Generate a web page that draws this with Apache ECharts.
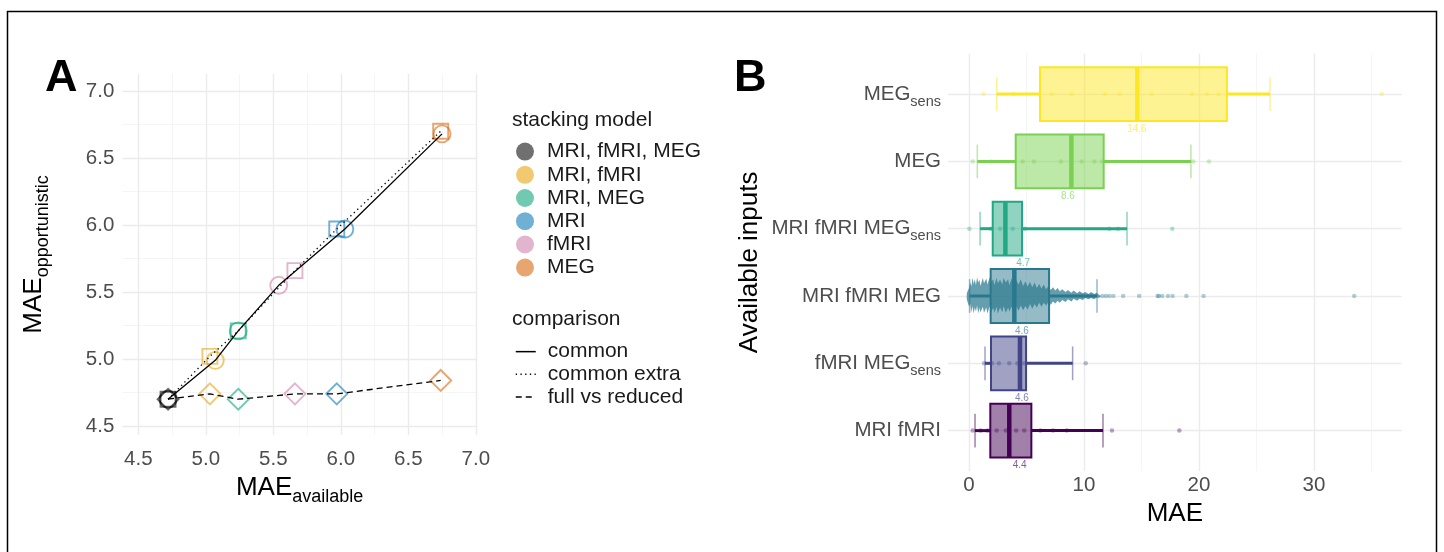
<!DOCTYPE html>
<html><head><meta charset="utf-8">
<script src="https://cdn.jsdelivr.net/npm/echarts@6/dist/echarts.min.js"></script>
<style>html,body{margin:0;padding:0;background:#fff}#c{width:1444px;height:552px}</style>
</head><body><div id="c"></div>
<script>
// ---------- Panel A data ----------
const models = ['MRI, fMRI, MEG', 'MRI, fMRI', 'MRI, MEG', 'MRI', 'fMRI', 'MEG'];
const modelColors = ['#000000', '#E69F00', '#009E73', '#0072B2', '#CC79A7', '#D55E00'];
const comparisons = ['common', 'common extra', 'full vs reduced'];
// common (circles)
const commonX = [4.72, 5.07, 5.24, 6.03, 5.54, 6.75];
const commonY = [4.70, 4.99, 5.21, 5.97, 5.55, 6.68];
// common extra (squares)
const extraX = [4.72, 5.03, 5.24, 5.97, 5.66, 6.74];
const extraY = [4.70, 5.02, 5.21, 5.97, 5.66, 6.70];
// full vs reduced (diamonds)
const fullX = [4.72, 5.03, 5.24, 5.97, 5.66, 6.74];
const fullY = [4.70, 4.74, 4.70, 4.74, 4.74, 4.84];
const ticksA = [4.5, 5.0, 5.5, 6.0, 6.5, 7.0];
const minorA = [4.75, 5.25, 5.75, 6.25, 6.75];

// ---------- Panel B data (rows bottom -> top) ----------
const inputs = ['MRI fMRI', 'fMRI MEGsens', 'MRI fMRI MEG', 'MRI fMRI MEGsens', 'MEG', 'MEGsens'];
const colorsB = ['#440154', '#414487', '#2A788E', '#22A884', '#7AD151', '#FDE725'];
const whiskLo = [0.52, 1.39, 0.05, 0.96, 0.72, 2.41];
const boxQ1 = [1.85, 1.91, 1.88, 2.06, 4.06, 6.17];
const boxMed = [3.50, 4.43, 3.94, 3.16, 8.90, 14.64];
const boxQ3 = [5.42, 4.96, 6.96, 4.61, 11.71, 22.43];
const whiskHi = [11.65, 9.01, 11.13, 13.74, 19.30, 26.17];
const meanVal = [4.4, 4.6, 4.6, 4.7, 8.6, 14.6];
const pointsB = [
  [0.32, 1.0, 1.6, 2.4, 3.2, 4.1, 4.8, 6.2, 7.3, 8.5, 12.43, 18.29],
  [1.3, 2.0, 2.6, 3.5, 4.2, 4.8, 10.15],
  [11.6, 11.9, 12.2, 12.55, 13.4, 14.8, 16.4, 16.5, 16.8, 17.3, 17.7, 18.9, 20.4, 33.5],
  [0.03, 1.9, 2.7, 3.8, 4.87, 12.2, 12.96, 17.68],
  [0.32, 1.9, 4.67, 5.65, 8.0, 9.8, 10.9, 11.57, 19.5, 20.87],
  [1.25, 3.86, 7.19, 8.93, 11.83, 13.1, 15.9, 19.4, 20.7, 21.7, 35.9]
];
// dense cloud of individual results for "MRI fMRI MEG" (envelope, in row units)
const cloudX = [-0.2, 0.0, 0.1, 0.2, 0.3, 0.4, 0.5, 0.6, 0.7, 0.8, 0.9, 1.0, 1.2, 1.3, 1.5, 1.6, 1.8, 1.9, 2.1, 2.2, 2.4, 2.5, 2.7, 2.9, 3.0, 3.2, 3.4, 3.5, 3.7, 3.9, 4.1, 4.3, 4.5, 4.7, 4.9, 5.1, 5.3, 5.5, 5.7, 5.9, 6.1, 6.3, 6.5, 6.7, 6.9, 7.1, 7.3, 7.5, 7.7, 7.9, 8.1, 8.4, 8.6, 8.9, 9.1, 9.4, 9.6, 9.9, 10.1, 10.4, 10.6, 10.9, 11.1, 11.3, 11.5];
const cloudUp = [0.04, 0.12, 0.20, 0.14, 0.27, 0.18, 0.25, 0.16, 0.28, 0.20, 0.24, 0.15, 0.27, 0.19, 0.26, 0.17, 0.28, 0.20, 0.25, 0.16, 0.27, 0.19, 0.24, 0.17, 0.27, 0.20, 0.25, 0.16, 0.26, 0.19, 0.24, 0.17, 0.25, 0.15, 0.22, 0.14, 0.21, 0.13, 0.20, 0.12, 0.18, 0.11, 0.17, 0.10, 0.15, 0.09, 0.13, 0.08, 0.12, 0.07, 0.10, 0.06, 0.09, 0.05, 0.08, 0.04, 0.07, 0.04, 0.06, 0.03, 0.06, 0.03, 0.05, 0.02, 0.0];
const cloudDown = [0.05, 0.16, 0.11, 0.24, 0.15, 0.26, 0.17, 0.23, 0.14, 0.26, 0.18, 0.24, 0.16, 0.25, 0.17, 0.26, 0.15, 0.24, 0.18, 0.25, 0.16, 0.26, 0.17, 0.24, 0.15, 0.25, 0.17, 0.23, 0.16, 0.24, 0.15, 0.22, 0.14, 0.21, 0.15, 0.20, 0.12, 0.19, 0.12, 0.17, 0.10, 0.16, 0.10, 0.14, 0.09, 0.13, 0.08, 0.11, 0.07, 0.10, 0.06, 0.09, 0.05, 0.08, 0.04, 0.07, 0.04, 0.06, 0.03, 0.05, 0.03, 0.05, 0.02, 0.03, 0.0];
const ticksB = [0, 10, 20, 30];
const minorB = [5, 15, 25, 35];

// ---------- helpers ----------
const FONT = 'Liberation Sans, Arial, Helvetica, sans-serif';
function hexA(hex, a) {
  const n = parseInt(hex.slice(1), 16);
  return 'rgba(' + ((n >> 16) & 255) + ',' + ((n >> 8) & 255) + ',' + (n & 255) + ',' + a + ')';
}
const near = (v, arr) => arr.some(t => Math.abs(t - v) < 1e-6);
const sortedIdx = xs => xs.map((x, i) => i).sort((a, b) => xs[a] - xs[b]);
const GRID_MAJ = {color: '#EBEBEB', width: 1.4, type: 'solid'};
const GRID_MIN = {color: '#F2F2F2', width: 0.8, type: 'solid'};
function rowLabel(name) {
  if (name.endsWith('sens')) return '{m|' + name.slice(0, -4) + '}{s|sens}';
  return '{m|' + name + '}';
}

// ---------- series ----------
const series = [];
// panel A gridlines
series.push({
  type: 'scatter', xAxisIndex: 0, yAxisIndex: 0, z: 1, silent: true, symbolSize: 0,
  data: [[ticksA[0], ticksA[0]]],
  markLine: {
    silent: true, z: 1, symbol: ['none', 'none'], label: {show: false}, animation: false,
    data: [].concat(
      minorA.map(v => ({xAxis: v, lineStyle: GRID_MIN})),
      minorA.map(v => ({yAxis: v, lineStyle: GRID_MIN})),
      ticksA.map(v => ({xAxis: v, lineStyle: GRID_MAJ})),
      ticksA.map(v => ({yAxis: v, lineStyle: GRID_MAJ}))
    )
  }
});
models.forEach((m, i) => {
  series.push({
    name: m, type: 'scatter', xAxisIndex: 0, yAxisIndex: 0, z: 3, silent: true,
    data: [
      {value: [commonX[i], commonY[i]], symbol: 'circle', symbolSize: 17},
      {value: [extraX[i], extraY[i]], symbol: 'rect', symbolSize: 15},
      {value: [fullX[i], fullY[i]], symbol: 'diamond', symbolSize: 21}
    ],
    itemStyle: {color: 'rgba(0,0,0,0)', borderColor: hexA(modelColors[i], 0.7), borderWidth: 1.9}
  });
});
const lineSets = [[commonX, commonY, 'solid'], [extraX, extraY, [1.3, 3.4]], [fullX, fullY, [6, 4]]];
lineSets.forEach((ls, k) => {
  series.push({
    name: comparisons[k], type: 'line', xAxisIndex: 0, yAxisIndex: 0, z: 4, silent: true,
    symbol: 'none', animation: false,
    data: sortedIdx(ls[0]).map(i => [ls[0][i], ls[1][i]]),
    itemStyle: {color: '#000'},
    lineStyle: {color: '#000', width: 1.3, type: ls[2]}
  });
});

// panel B gridlines
series.push({
  type: 'scatter', xAxisIndex: 1, yAxisIndex: 1, z: 1, silent: true, symbolSize: 0,
  data: [[ticksB[0], 1]],
  markLine: {
    silent: true, z: 1, symbol: ['none', 'none'], label: {show: false}, animation: false,
    data: [].concat(
      minorB.map(v => ({xAxis: v, lineStyle: GRID_MIN})),
      ticksB.map(v => ({xAxis: v, lineStyle: GRID_MAJ})),
      inputs.map((n, i) => ({yAxis: i + 1, lineStyle: GRID_MAJ}))
    )
  }
});
// individual points
const ptData = [];
pointsB.forEach((arr, r) => arr.forEach(x => ptData.push({value: [x, r + 1], itemStyle: {color: hexA(colorsB[r], 0.45)}})));
series.push({type: 'scatter', xAxisIndex: 1, yAxisIndex: 1, z: 2, silent: true, symbolSize: 4.5, data: ptData});
// boxes
series.push({
  type: 'custom', xAxisIndex: 1, yAxisIndex: 1, z: 3, silent: true, clip: false,
  data: inputs.map((n, i) => [i + 1, whiskLo[i], boxQ1[i], boxMed[i], boxQ3[i], whiskHi[i], meanVal[i], i]),
  renderItem: function (params, api) {
    const y = api.value(0), lo = api.value(1), q1 = api.value(2), med = api.value(3), q3 = api.value(4), hi = api.value(5), mv = api.value(6);
    const c = colorsB[api.value(7)];
    const pLo = api.coord([lo, y]), pQ1 = api.coord([q1, y]), pQ3 = api.coord([q3, y]), pHi = api.coord([hi, y]), pMed = api.coord([med, y]);
    const top = api.coord([q1, y + 0.4])[1], bot = api.coord([q1, y - 0.4])[1];
    const cT = api.coord([lo, y + 0.25])[1], cB = api.coord([lo, y - 0.25])[1];
    const pM = api.coord([mv, y - 0.4]);
    return {type: 'group', children: [
      {type: 'line', shape: {x1: pLo[0], y1: pLo[1], x2: pQ1[0], y2: pQ1[1]}, style: {stroke: c, lineWidth: 3}},
      {type: 'line', shape: {x1: pQ3[0], y1: pQ3[1], x2: pHi[0], y2: pHi[1]}, style: {stroke: c, lineWidth: 3}},
      {type: 'line', shape: {x1: pLo[0], y1: cT, x2: pLo[0], y2: cB}, style: {stroke: hexA(c, 0.5), lineWidth: 1.5}},
      {type: 'line', shape: {x1: pHi[0], y1: cT, x2: pHi[0], y2: cB}, style: {stroke: hexA(c, 0.5), lineWidth: 1.5}},
      {type: 'rect', shape: {x: pQ1[0], y: top, width: pQ3[0] - pQ1[0], height: bot - top}, style: {fill: hexA(c, 0.5), stroke: c, lineWidth: 2}},
      {type: 'line', shape: {x1: pMed[0], y1: top, x2: pMed[0], y2: bot}, style: {stroke: c, lineWidth: 4.5}},
      {type: 'text', x: pM[0], y: pM[1] + 3, style: {text: mv.toFixed(1), fill: hexA(c, 0.65), font: '10px ' + FONT, align: 'center', verticalAlign: 'top'}}
    ]};
  }
});
// dense cloud for MRI fMRI MEG
series.push({
  type: 'custom', xAxisIndex: 1, yAxisIndex: 1, z: 4, silent: true, clip: false,
  data: [[3]],
  renderItem: function (params, api) {
    const row = api.value(0);
    const pts = [];
    for (let i = 0; i < cloudX.length; i++) pts.push(api.coord([cloudX[i], row + cloudUp[i]]));
    for (let i = cloudX.length - 1; i >= 0; i--) pts.push(api.coord([cloudX[i], row - cloudDown[i]]));
    return {type: 'polygon', shape: {points: pts}, style: {fill: hexA(colorsB[2], 0.72)}};
  }
});

// ---------- option ----------
const tickLabel = {color: '#4D4D4D', fontSize: 20.5, fontFamily: FONT};
const option = {
  animation: false,
  backgroundColor: '#fff',
  textStyle: {fontFamily: FONT},
  title: [
    {text: 'A', left: 45, top: 56, padding: 0, textStyle: {fontSize: 45, fontWeight: 'bold', color: '#000', fontFamily: FONT}},
    {text: 'B', left: 734, top: 56, padding: 0, textStyle: {fontSize: 45, fontWeight: 'bold', color: '#000', fontFamily: FONT}},
    {text: 'stacking model', left: 512, top: 110, padding: 0, textStyle: {fontSize: 21, fontWeight: 'normal', color: '#1A1A1A', fontFamily: FONT}},
    {text: 'comparison', left: 512, top: 309, padding: 0, textStyle: {fontSize: 21, fontWeight: 'normal', color: '#1A1A1A', fontFamily: FONT}}
  ],
  legend: [
    {
      orient: 'vertical', left: 516, top: 140, padding: 0, itemGap: 0, itemWidth: 18, itemHeight: 18,
      selectedMode: false, symbolKeepAspect: true,
      data: models.map((m, i) => ({name: m, icon: 'circle', itemStyle: {color: hexA(modelColors[i], 0.7), borderWidth: 0}})),
      textStyle: {fontSize: 21, color: '#1A1A1A', lineHeight: 23.2, padding: [0, 0, 0, 8], fontFamily: FONT}
    },
    {
      orient: 'vertical', left: 515, top: 340.3, padding: 0, itemGap: 0, itemWidth: 20, itemHeight: 18,
      selectedMode: false,
      data: comparisons.map(c => ({name: c, itemStyle: {color: 'rgba(0,0,0,0)', borderWidth: 0, opacity: 0}})),
      lineStyle: {color: '#000', width: 1.5},
      textStyle: {fontSize: 21, color: '#1A1A1A', lineHeight: 22.7, padding: [0, 0, 0, 7], fontFamily: FONT}
    }
  ],
  grid: [
    {left: 122.3, top: 74, width: 354.7, height: 361, containLabel: false, outerBoundsMode: 'none'},
    {left: 948, top: 53.7, width: 453.7, height: 417.3, containLabel: false, outerBoundsMode: 'none'}
  ],
  xAxis: [
    {
      type: 'value', gridIndex: 0, min: 4.381, max: 7.009,
      axisLine: {show: false}, axisTick: {show: false}, splitLine: {show: false},
      axisLabel: Object.assign({margin: 14, customValues: ticksA, formatter: v => near(v, ticksA) ? v.toFixed(1) : ''}, tickLabel),
      name: '{m|MAE}{s|available}', nameLocation: 'middle', nameGap: 29,
      nameTextStyle: {rich: {m: {fontSize: 26, lineHeight: 36, color: '#000', fontFamily: FONT}, s: {fontSize: 18, lineHeight: 18, verticalAlign: 'bottom', color: '#000', fontFamily: FONT}}}
    },
    {
      type: 'value', gridIndex: 1, min: -1.83, max: 37.63,
      axisLine: {show: false}, axisTick: {show: false}, splitLine: {show: false},
      axisLabel: Object.assign({margin: 4, customValues: ticksB, formatter: v => near(v, ticksB) ? String(v) : ''}, tickLabel),
      name: 'MAE', nameLocation: 'middle', nameGap: 26,
      nameTextStyle: {fontSize: 26, color: '#000', fontFamily: FONT}
    }
  ],
  yAxis: [
    {
      type: 'value', gridIndex: 0, min: 4.433, max: 7.127,
      axisLine: {show: false}, axisTick: {show: false}, splitLine: {show: false},
      axisLabel: Object.assign({margin: 8, customValues: ticksA, formatter: v => near(v, ticksA) ? v.toFixed(1) : ''}, tickLabel),
      name: '{m|MAE}{s|opportunistic}', nameLocation: 'middle', nameGap: 70,
      nameTextStyle: {rich: {m: {fontSize: 26, lineHeight: 36, color: '#000', fontFamily: FONT}, s: {fontSize: 18, lineHeight: 18, verticalAlign: 'bottom', color: '#000', fontFamily: FONT}}}
    },
    {
      type: 'value', gridIndex: 1, min: 0.4, max: 6.6,
      axisLine: {show: false}, axisTick: {show: false}, splitLine: {show: false},
      axisLabel: {
        margin: 7, customValues: [1, 2, 3, 4, 5, 6],
        formatter: v => (near(v, [1, 2, 3, 4, 5, 6]) ? rowLabel(inputs[Math.round(v) - 1]) : ''),
        rich: {
          m: {fontSize: 20.5, lineHeight: 30, color: '#4D4D4D', fontFamily: FONT},
          s: {fontSize: 14.5, lineHeight: 14, verticalAlign: 'bottom', color: '#4D4D4D', fontFamily: FONT}
        }
      },
      name: 'Available inputs', nameLocation: 'middle', nameGap: 185,
      nameTextStyle: {fontSize: 26, color: '#000', fontFamily: FONT}
    }
  ],
  graphic: [
    {type: 'rect', silent: true, z: 100, shape: {x: 7.5, y: 11.5, width: 1429, height: 560}, style: {fill: 'none', stroke: '#000', lineWidth: 1.5}}
  ],
  series: series
};
const chart = echarts.init(document.getElementById('c'), null, {renderer: 'canvas'});
chart.setOption(option);
</script>
</body></html>
